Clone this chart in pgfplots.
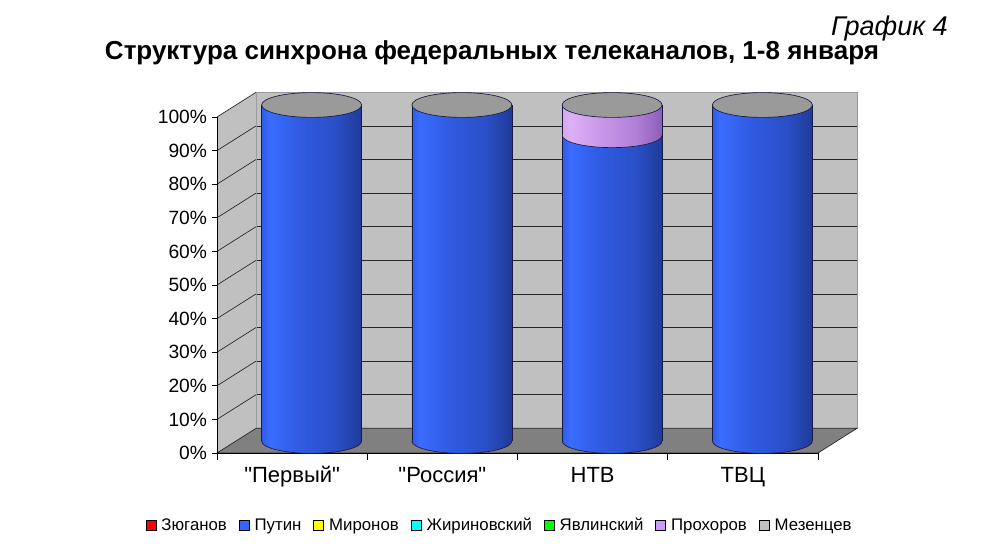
\documentclass[border=0pt]{standalone}
\usepackage{pgfplots}
\usepackage{pgfplotstable}
\pgfplotsset{compat=1.18}
\usepackage{fontspec}
\setmainfont{Liberation Sans}

\definecolor{wallgray}{HTML}{C0C0C0}
\definecolor{floorgray}{HTML}{808080}
\definecolor{capgray}{HTML}{9A9A9A}
\definecolor{edge}{HTML}{1A1A40}
% legend colours
\definecolor{czyu}{HTML}{FF0000}
\definecolor{cput}{HTML}{3366FF}
\definecolor{cmir}{HTML}{FFFF00}
\definecolor{czhi}{HTML}{00FFFF}
\definecolor{cyav}{HTML}{00FF00}
\definecolor{cpro}{HTML}{CC99FF}
\definecolor{cmez}{HTML}{C0C0C0}
% cylinder shading
\definecolor{b1}{HTML}{2F5CE6}
\definecolor{b2}{HTML}{3A6CFF}
\definecolor{b3}{HTML}{2F5AE0}
\definecolor{b4}{HTML}{2A4FC8}
\definecolor{b5}{HTML}{1F3A98}
\definecolor{v1}{HTML}{D6A6F0}
\definecolor{v2}{HTML}{DDB0F6}
\definecolor{v3}{HTML}{C796E8}
\definecolor{v4}{HTML}{B080D8}
\definecolor{v5}{HTML}{8C5EB8}
\pgfdeclarehorizontalshading{blueshade}{100bp}{color(0bp)=(b1); color(25bp)=(b1);
  color(29bp)=(b2); color(45bp)=(b3); color(62bp)=(b4); color(75bp)=(b5); color(100bp)=(b5)}
\pgfdeclarehorizontalshading{violetshade}{100bp}{color(0bp)=(v1); color(25bp)=(v1);
  color(29bp)=(v2); color(45bp)=(v3); color(62bp)=(v4); color(75bp)=(v5); color(100bp)=(v5)}

% share of each candidate, %, by channel (0 Первый, 1 Россия, 2 НТВ, 3 ТВЦ)
\pgfplotstableread{
idx Zyuganov Putin Mironov Zhirinovsky Yavlinsky Prokhorov Mezentsev
0   0        100   0       0           0         0         0
1   0        100   0       0           0         0         0
2   0        91    0       0           0         9         0
3   0        100   0       0           0         0         0
}\shares

\def\rx{37.5pt}
\def\ry{9.3pt}
% lower half of an ellipse: the front edge of a cylinder segment
\newcommand\halfmark[2]{%
  \pgfdeclareplotmark{#1}{%
    \pgfpathmoveto{\pgfqpoint{-\rx}{0pt}}%
    \pgfpatharc{180}{360}{\rx and \ry}%
    \pgfpathclose
    \pgfshadepath{#2}{0}%
    \pgfusepath{discard}%
    \pgfpathmoveto{\pgfqpoint{-\rx}{0pt}}%
    \pgfpatharc{180}{360}{\rx and \ry}%
    \pgfusepath{stroke}%
  }}
\halfmark{halfblue}{blueshade}
\halfmark{halfviolet}{violetshade}
\pgfdeclareplotmark{cap}{%
  \pgfpathellipse{\pgfpointorigin}{\pgfqpoint{\rx}{0pt}}{\pgfqpoint{0pt}{\ry}}%
  \pgfusepath{fill,stroke}}

\pgfplotsset{
  cylaxis/.style={
    at={(177.375pt,89.25pt)}, anchor=south west,
    scale only axis, width=450.75pt, height=252pt,
    xmin=-0.5, xmax=3.5, ymin=0, ymax=100,
    hide axis, clip=false,
  },
}

% one cylinder body per axis, so that the shading spans a single bar
% #1,#2: row of \shares to keep; #3: style of the Prokhorov segment
\newcommand\cylbars[3]{%
\begin{axis}[cylaxis, ybar stacked, bar width=75pt,
  skip coords between index={0}{#1}, skip coords between index={#2}{4}]
\addplot[fill=czyu, draw=none] table[x=idx, y=Zyuganov] {\shares};
\addplot[shading=blueshade, shading angle=0, draw=none] table[x=idx, y=Putin] {\shares};
\addplot[fill=cmir, draw=none] table[x=idx, y=Mironov] {\shares};
\addplot[fill=czhi, draw=none] table[x=idx, y=Zhirinovsky] {\shares};
\addplot[fill=cyav, draw=none] table[x=idx, y=Yavlinsky] {\shares};
\addplot[#3, draw=none] table[x=idx, y=Prokhorov] {\shares};
\addplot[fill=cmez, draw=none] table[x=idx, y=Mezentsev] {\shares};
\end{axis}}

\begin{document}
\begin{tikzpicture}
\path[use as bounding box] (0,0) rectangle (750pt,420pt);

\node[anchor=base east, inner sep=0, font=\itshape\fontsize{20.3}{24}\selectfont]
  at (711pt,393pt) {График 4};
\node[anchor=base, inner sep=0, font=\bfseries\fontsize{19.5}{23}\selectfont]
  at (369pt,375pt) {Структура синхрона федеральных телеканалов, 1-8 января};

% back wall
\begin{axis}[
  at={(192pt,98.75pt)}, anchor=south west,
  scale only axis, width=450.75pt, height=252pt,
  xmin=0, xmax=1, ymin=0, ymax=100,
  axis background/.style={fill=wallgray},
  axis line style={draw=black!40, line width=0.5pt},
  xtick=\empty, ytick={0,10,...,100},
  yticklabel style={opacity=0},
  tick style={draw=none},
  ymajorgrids, grid style={black!85, line width=0.5pt},
]
\end{axis}

% front plane: ticks, labels, side wall, floor, legend
\begin{axis}[
  at={(162.75pt,80.25pt)}, anchor=south west,
  scale only axis, width=450.75pt, height=252pt,
  xmin=-0.5, xmax=3.5, ymin=0, ymax=100,
  axis lines*=left, axis line style={black, line width=0.5pt},
  axis on top, clip=false,
  tick align=outside,
  tick style={black, line width=0.5pt},
  major tick length=4pt, minor tick length=5pt,
  ytick={0,10,...,100},
  yticklabel={\pgfmathprintnumber{\tick}\%},
  /pgf/number format/assume math mode=true,
  yticklabel style={font=\fontsize{14.4}{16}\selectfont},
  xtick={0,1,2,3},
  xticklabels={\textquotedbl Первый\textquotedbl,\textquotedbl Россия\textquotedbl,НТВ,ТВЦ},
  typeset ticklabels with strut,
  major x tick style={draw=none},
  minor xtick={-0.5,0.5,1.5,2.5,3.5},
  xticklabel style={font=\fontsize{16.5}{19}\selectfont, yshift=-1pt},
  legend columns=7,
  legend cell align=left,
  legend style={at={(0.4709,-0.2143)}, anchor=center, draw=none, fill=none,
    font=\fontsize{12.6}{15}\selectfont,
    /tikz/every odd column/.append style={column sep=2pt},
    /tikz/every even column/.append style={column sep=7pt}},
  legend image code/.code={\draw[#1, draw=black, line width=0.4pt]
    (0pt,-3.7pt) rectangle (7.4pt,3.7pt);},
]
\fill[wallgray] (axis cs:-0.5,0) -- (axis cs:-0.5,100)
  -- ([shift={(29.25pt,18.5pt)}]axis cs:-0.5,100)
  -- ([shift={(29.25pt,18.5pt)}]axis cs:-0.5,0) -- cycle;
\pgfplotsinvokeforeach{10,20,...,100}{
  \draw[black!85, line width=0.5pt] (axis cs:-0.5,#1) -- ++(29.25pt,18.5pt);
}
\filldraw[fill=floorgray, draw=black!85, line width=0.5pt]
  (axis cs:-0.5,0) -- (axis cs:3.5,0)
  -- ([shift={(29.25pt,18.5pt)}]axis cs:3.5,0)
  -- ([shift={(29.25pt,18.5pt)}]axis cs:-0.5,0) -- cycle;

\addlegendimage{fill=czyu}\addlegendentry{\strut Зюганов}
\addlegendimage{fill=cput}\addlegendentry{\strut Путин}
\addlegendimage{fill=cmir}\addlegendentry{\strut Миронов}
\addlegendimage{fill=czhi}\addlegendentry{\strut Жириновский}
\addlegendimage{fill=cyav}\addlegendentry{\strut Явлинский}
\addlegendimage{fill=cpro}\addlegendentry{\strut Прохоров}
\addlegendimage{fill=cmez}\addlegendentry{\strut Мезенцев}
\end{axis}

% cylinder bodies
\cylbars{0}{1}{fill=cpro}
\cylbars{1}{2}{fill=cpro}
\cylbars{2}{3}{shading=violetshade, shading angle=0}
\cylbars{3}{4}{fill=cpro}

% front arcs, outlines and tops of the cylinders
\begin{axis}[cylaxis]
\addplot[only marks, mark=halfblue, mark options={draw=edge, line width=0.5pt}]
  coordinates {(0,0) (1,0) (2,0) (3,0)};
\addplot[only marks, mark=halfviolet, mark options={draw=edge, line width=0.5pt}]
  coordinates {(2,91)};
\addplot[edge, line width=0.5pt, unbounded coords=jump] coordinates {
  (-0.3328,0) (-0.3328,100) (0,nan) (0.3328,0) (0.3328,100) (0,nan)
  (0.6672,0) (0.6672,100) (1,nan) (1.3328,0) (1.3328,100) (1,nan)
  (1.6672,0) (1.6672,100) (2,nan) (2.3328,0) (2.3328,100) (2,nan)
  (2.6672,0) (2.6672,100) (3,nan) (3.3328,0) (3.3328,100)};
\addplot[only marks, mark=cap, mark options={fill=capgray, draw=edge, line width=0.5pt}]
  coordinates {(0,100) (1,100) (2,100) (3,100)};
\end{axis}
\end{tikzpicture}
\end{document}
